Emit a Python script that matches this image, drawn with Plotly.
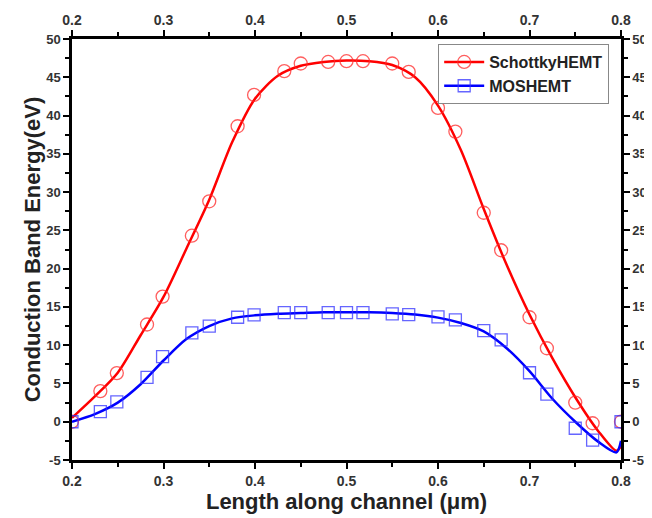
import plotly.graph_objects as go

# Marker data
x_pts = [0.2, 0.231, 0.249, 0.282, 0.299, 0.331, 0.35, 0.381, 0.399, 0.432, 0.45, 0.48,
         0.5, 0.518, 0.55, 0.568, 0.6, 0.619, 0.65, 0.669, 0.7, 0.719, 0.75, 0.769, 0.8]
schottky_pts = [0.0, 4.0, 6.35, 12.7, 16.35, 24.3, 28.8, 38.6, 42.7, 45.8, 46.8, 47.0,
                47.1, 47.1, 46.8, 45.7, 41.0, 37.9, 27.3, 22.4, 13.65, 9.6, 2.5, -0.2, 0.0]
mos_pts = [0.0, 1.33, 2.6, 5.8, 8.5, 11.6, 12.5, 13.65, 13.95, 14.25, 14.25, 14.25,
           14.25, 14.25, 14.1, 14.0, 13.7, 13.3, 11.9, 10.7, 6.4, 3.6, -0.85, -2.4, 0.0]

# Smooth fitted curves
x_fit = [0.2, 0.225, 0.25, 0.275, 0.3, 0.325, 0.35, 0.375, 0.4, 0.425, 0.45, 0.475, 0.5,
         0.525, 0.55, 0.575, 0.6, 0.625, 0.65, 0.675, 0.7, 0.725, 0.75, 0.775, 0.795, 0.8]
schottky_fit = [0.5, 3.3, 6.4, 11.3, 16.3, 22.6, 29.0, 36.5, 42.2, 45.2, 46.5, 47.0, 47.2,
                47.1, 46.6, 45.0, 41.3, 35.5, 27.8, 20.5, 14.0, 8.3, 3.2, -1.2, -3.8, -3.2]
mos_fit = [0.0, 1.0, 2.5, 4.9, 8.0, 10.8, 12.5, 13.5, 13.9, 14.1, 14.2, 14.3, 14.3,
           14.3, 14.2, 14.0, 13.6, 12.9, 11.8, 9.6, 6.6, 3.0, 0.0, -2.6, -4.0, -2.5]

x_ticks = [0.2, 0.3, 0.4, 0.5, 0.6, 0.7, 0.8]
y_ticks = [-5, 0, 5, 10, 15, 20, 25, 30, 35, 40, 45, 50]

RED = "#ff0000"
BLUE = "#0000ff"
FONT = "Liberation Sans, Arial, sans-serif"

fig = go.Figure()

fig.add_trace(go.Scatter(x=x_fit, y=schottky_fit, mode="lines", line=dict(color=RED, width=2.5, shape="spline", smoothing=0.8),
                         showlegend=False, hoverinfo="skip"))
fig.add_trace(go.Scatter(x=x_fit, y=mos_fit, mode="lines", line=dict(color=BLUE, width=2.5, shape="spline", smoothing=0.8),
                         showlegend=False, hoverinfo="skip"))
fig.add_trace(go.Scatter(x=x_pts, y=schottky_pts, mode="markers",
                         marker=dict(symbol="circle-open", size=13, color="rgba(255,40,40,0.75)", line=dict(width=1.3)),
                         showlegend=False))
fig.add_trace(go.Scatter(x=x_pts, y=mos_pts, mode="markers",
                         marker=dict(symbol="square-open", size=12, color="rgba(50,50,255,0.75)", line=dict(width=1.3)),
                         showlegend=False))

# legend entries
fig.add_trace(go.Scatter(x=[None], y=[None], mode="lines+markers", name="SchottkyHEMT",
                         line=dict(color=RED, width=2.5),
                         marker=dict(symbol="circle-open", size=13, color="rgba(255,40,40,0.75)", line=dict(width=1.3))))
fig.add_trace(go.Scatter(x=[None], y=[None], mode="lines+markers", name="MOSHEMT",
                         line=dict(color=BLUE, width=2.5),
                         marker=dict(symbol="square-open", size=12, color="rgba(50,50,255,0.75)", line=dict(width=1.3))))

# dummy trace to activate the mirrored axes
fig.add_trace(go.Scatter(x=[0.5], y=[20], xaxis="x2", yaxis="y2", mode="markers",
                         marker=dict(opacity=0), showlegend=False, hoverinfo="skip"))

tickfont_x = dict(family=FONT, size=14, color="#333333", weight="bold")
tickfont_y = dict(family=FONT, size=13, color="#333333", weight="bold")

xcommon = dict(range=[0.2, 0.8], tickvals=x_ticks, ticktext=[f"{v:g}" for v in x_ticks],
               ticks="outside", ticklen=6, tickwidth=2, tickcolor="black", automargin=False,
               showline=True, linecolor="black", linewidth=2.5, showgrid=False, zeroline=False,
               minor=dict(dtick=0.05, tick0=0.2, ticks="outside", ticklen=4, tickwidth=2, tickcolor="black"),
               tickfont=tickfont_x)
ycommon = dict(range=[-5, 50], tickvals=y_ticks, ticktext=[str(v) for v in y_ticks],
               ticks="outside", ticklen=6, tickwidth=2, tickcolor="black", automargin=False,
               showline=True, linecolor="black", linewidth=2.5, showgrid=False, zeroline=False,
               minor=dict(dtick=2.5, tick0=0, ticks="outside", ticklen=4, tickwidth=2, tickcolor="black"),
               tickfont=tickfont_y)

fig.update_layout(
    width=644, height=510,
    margin=dict(l=64, r=31, t=31, b=58),
    paper_bgcolor="white", plot_bgcolor="white",
    font=dict(family=FONT, color="#222222"),
    xaxis=dict(**xcommon, title=dict(text="Length along channel (μm)", standoff=4,
                                     font=dict(family=FONT, size=22, color="#222222", weight="bold"))),
    yaxis=dict(**ycommon, title=dict(text="Conduction Band Energy(eV)", standoff=0,
                                     font=dict(family=FONT, size=22, color="#222222", weight="bold"))),
    xaxis2=dict(**xcommon, overlaying="x", side="top", anchor="y"),
    yaxis2=dict(**ycommon, overlaying="y", side="right", anchor="x"),
    legend=dict(x=0.667, y=0.988, xanchor="left", yanchor="top",
                bgcolor="white", bordercolor="#888888", borderwidth=1,
                font=dict(family=FONT, size=16, color="#222222", weight="bold"),
                tracegroupgap=0, itemwidth=40),
    showlegend=True,
)

fig.write_html("out.html")
